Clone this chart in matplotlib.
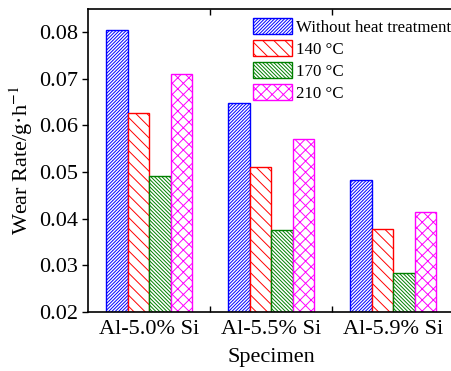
import matplotlib.pyplot as plt
import numpy as np
from matplotlib.ticker import FixedLocator

specimens = ["Al-5.0% Si", "Al-5.5% Si", "Al-5.9% Si"]
treatments = ["Without heat treatment", "140 °C", "170 °C", "210 °C"]
wear_none = [0.0805, 0.0648, 0.0484]
wear_140 = [0.0627, 0.0512, 0.0378]
wear_170 = [0.0492, 0.0375, 0.0283]
wear_210 = [0.0710, 0.0572, 0.0415]

colors = ["#0000ff", "#ff0000", "#008000", "#ff00ff"]
hatches = ["/" * 10, "\\" * 3, "\\" * 9, "xxx"]

plt.rcParams["font.family"] = ["Liberation Serif", "DejaVu Serif"]
plt.rcParams["hatch.linewidth"] = 0.7
plt.rcParams["mathtext.fontset"] = "stix"

fig = plt.figure(figsize=(4.52, 3.71), dpi=100)
ax = fig.add_axes([0.195, 0.159, 0.81, 0.817])

x = np.arange(len(specimens))
width = 0.176
series = [wear_none, wear_140, wear_170, wear_210]
for i, (vals, lab) in enumerate(zip(series, treatments)):
    ax.bar(x + (i - 1.5) * width, np.array(vals) - 0.02, width, bottom=0.02,
           facecolor="white", edgecolor=colors[i], hatch=hatches[i],
           linewidth=1.0, label=lab)

ax.set_xlim(-0.5, 2.5)
ax.set_ylim(0.02, 0.085)
ax.set_yticks([0.02, 0.03, 0.04, 0.05, 0.06, 0.07, 0.08])
ax.set_yticklabels(["0.02", "0.03", "0.04", "0.05", "0.06", "0.07", "0.08"])
ax.set_xticks(x)
ax.set_xticklabels(specimens)
ax.xaxis.set_minor_locator(FixedLocator([0.5, 1.5]))
ax.tick_params(axis="y", which="major", direction="out", length=4, width=1, labelsize=16, pad=3)
ax.tick_params(axis="x", which="major", length=0, labelsize=16, pad=6)
ax.tick_params(axis="x", which="minor", direction="in", length=4, width=1, top=True, bottom=True)
for s in ax.spines.values():
    s.set_linewidth(1.2)

ax.set_xlabel("Specimen", fontsize=16, labelpad=6)
ax.set_ylabel("Wear Rate/g·h$^{-1}$", fontsize=16, labelpad=3)

ax.legend(loc="upper right", bbox_to_anchor=(1.0, 0.982), frameon=False, fontsize=12.2,
          handlelength=2.3, handleheight=1.1, handletextpad=0.25, labelspacing=0.25,
          borderaxespad=0.0, borderpad=0.2)

fig.savefig("out.png", dpi=100)
